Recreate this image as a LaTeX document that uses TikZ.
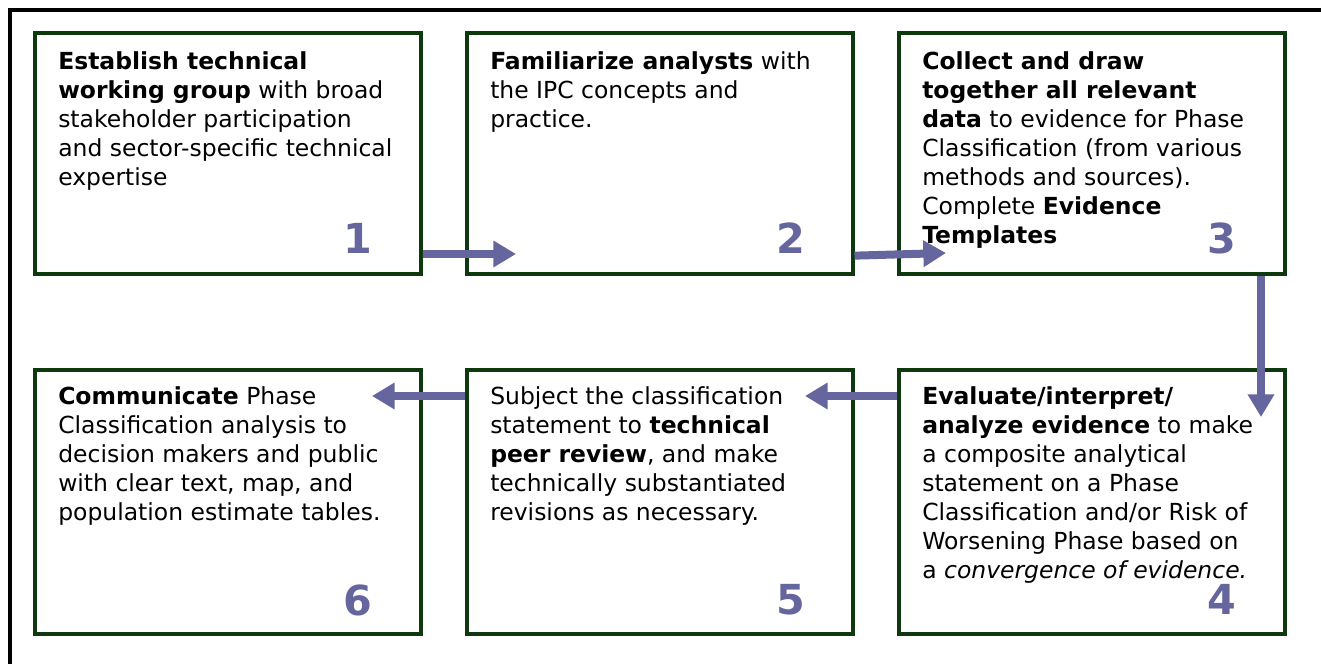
\documentclass[tikz,border=0pt]{standalone}
\usepackage{fontspec}
\setmainfont{DejaVu Sans}
\usetikzlibrary{arrows.meta}
\definecolor{boxgreen}{RGB}{14,56,14}
\definecolor{steppurple}{RGB}{102,102,158}
\begin{document}
\begin{tikzpicture}[x=0.75pt,y=-0.75pt,
  stepbox/.style={draw=boxgreen, line width=3pt, minimum width=289.5pt, inner sep=0pt},
  steptext/.style={anchor=north west, inner sep=0pt, align=left, font=\fontsize{17.6}{21.75}\selectfont},
  stepnum/.style={text=steppurple, inner sep=0pt, font=\fontsize{31}{31}\selectfont\bfseries},
  flow/.style={draw=steppurple, line width=6pt, -{Triangle[width=19pt,length=17pt]}}]
\useasboundingbox (0,0) rectangle (1321,664);
\draw[line width=3pt] (10,664) -- (10,10) -- (1321,10);
% top row
\node[stepbox, minimum height=180.75pt] (b1) at (228,153.5){};
\node[stepbox, minimum height=180.75pt] (b2) at (659.5,153.5){};
\node[stepbox, minimum height=180.75pt] (b3) at (1092,153.5){};
% bottom row
\node[stepbox, minimum height=198pt] (b6) at (228,502){};
\node[stepbox, minimum height=198pt] (b5) at (659.5,502){};
\node[stepbox, minimum height=198pt] (b4) at (1092,502){};
\node[steptext] (t1) at (58,51){\textbf{Establish technical}\\\textbf{working group} with broad\\stakeholder participation\\and sector-specific technical\\expertise};
\node[steptext] (t2) at (490,51){\textbf{Familiarize analysts} with\\the IPC concepts and\\practice.};
\node[steptext] (t3) at (922,51){\textbf{Collect and draw}\\\textbf{together all relevant}\\\textbf{data} to evidence for Phase\\Classification (from various\\methods and sources).\\Complete \textbf{Evidence}\\\textbf{Templates}};
\node[steptext] (t4) at (922,386){\textbf{Evaluate/interpret/}\\\textbf{analyze evidence} to make\\a composite analytical\\statement on a Phase\\Classification and/or Risk of\\Worsening Phase based on\\a \textit{convergence of evidence.}};
\node[steptext] (t5) at (490,386){Subject the classification\\statement to \textbf{technical}\\\textbf{peer review}, and make\\technically substantiated\\revisions as necessary.};
\node[steptext] (t6) at (58,386){\textbf{Communicate} Phase\\Classification analysis to\\decision makers and public\\with clear text, map, and\\population estimate tables.};
\node[stepnum] (n1) at (358,238.5){1};
\node[stepnum] (n2) at (791,238.5){2};
\node[stepnum] (n3) at (1222,238.5){3};
\node[stepnum] (n4) at (1222,599){4};
\node[stepnum] (n5) at (791,600){5};
\node[stepnum] (n6) at (358,600){6};
% arrow tips
\coordinate (a1) at (516,254);
\coordinate (a2) at (946,253);
\coordinate (a3) at (1261,417);
\coordinate (a4) at (805,396);
\coordinate (a5) at (372,396);
\draw[flow] (b1.east |- a1) -- (a1);
\draw[flow] ([yshift=-2pt]b2.east |- a2) -- (a2);
\draw[flow] (b3.south -| a3) -- (a3);
\draw[flow] (b4.west |- a4) -- (a4);
\draw[flow] (b5.west |- a5) -- (a5);
\end{tikzpicture}
\end{document}
